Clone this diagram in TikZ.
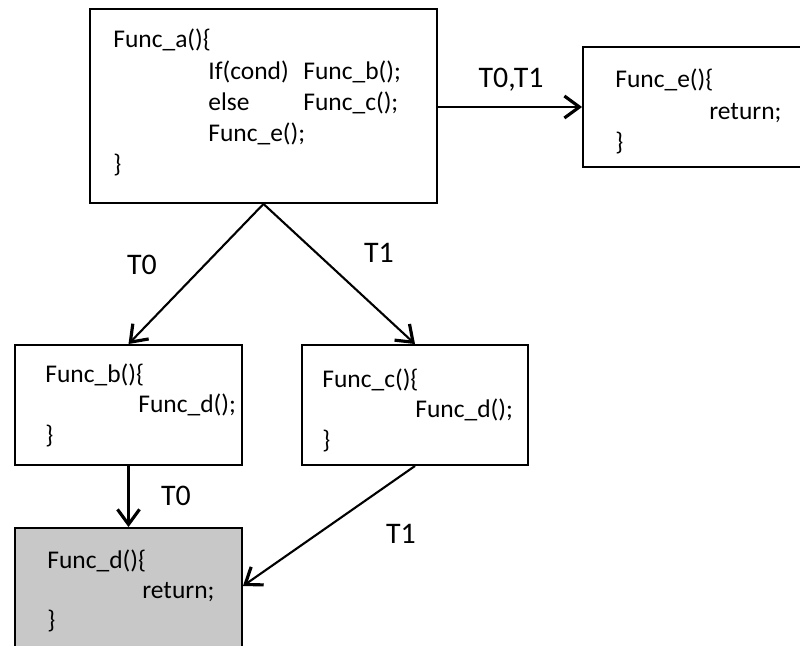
\documentclass[tikz,border=0pt]{standalone}
\usepackage{fontspec}
\setmainfont{Carlito}
\usetikzlibrary{arrows.meta}

\tikzset{
  box/.style={draw, line width=1.1pt, inner sep=0pt},
  code/.style={anchor=base west, inner sep=0pt, font=\fontsize{14.5}{17}\selectfont},
  tlabel/.style={inner sep=0pt, font=\fontsize{17}{20}\selectfont},
  call/.style={line width=1.2pt, -{Straight Barb[length=0.3cm, width=0.44cm, line width=1.8pt]}}
}

\begin{document}
\begin{tikzpicture}[x=0.02cm, y=-0.02cm]
\useasboundingbox (0,0) rectangle (800,645);
\clip (0,0) rectangle (800,645);

% boxes
\node [box, minimum width=6.94cm, minimum height=3.88cm] (a) at (263.5,106) {};
\node [box, minimum width=4.74cm, minimum height=2.4cm] (e) at (701.5,107) {};
\node [box, minimum width=4.54cm, minimum height=2.4cm] (b) at (128.5,405) {};
\node [box, minimum width=4.52cm, minimum height=2.4cm] (c) at (415,405) {};
\node [box, fill={rgb,255:red,200;green,200;blue,200}, minimum width=4.54cm, minimum height=2.64cm] (d) at (128.5,594) {};

% Func_a
\node [code] (a1) at (113,48) {Func\_a()\{};
\node [code] (a2) at (208,80) {If(cond)};
\node [code] (a3) at (303,80) {Func\_b();};
\node [code] (a4) at (208,111) {else};
\node [code] (a5) at (303,111) {Func\_c();};
\node [code] (a6) at (208,142) {Func\_e();};
\node [code] (a7) at (113,173) {\}};

% Func_e
\node [code] (e1) at (615,88) {Func\_e()\{};
\node [code] (e2) at (709,120) {return;};
\node [code] (e3) at (615,151) {\}};

% Func_b
\node [code] (b1) at (45,382) {Func\_b()\{};
\node [code] (b2) at (138,412) {Func\_d();};
\node [code] (b3) at (45,443) {\}};

% Func_c
\node [code] (c1) at (322,387) {Func\_c()\{};
\node [code] (c2) at (415,417) {Func\_d();};
\node [code] (c3) at (322,448) {\}};

% Func_d
\node [code] (d1) at (47,568) {Func\_d()\{};
\node [code] (d2) at (142,598) {return;};
\node [code] (d3) at (47,628) {\}};

% calls
\draw [call] (a.east |- e.west) -- (e.west);
\draw [call] (a.south) -- (b.north);
\draw [call] (a.south) -- (c.north);
\draw [call] (b.south) -- (d.north);
\draw [call] (c.south) -- ([yshift=0.16cm]d.east);

% threads
\node [tlabel] (l1) at (511,80) {T0,T1};
\node [tlabel] (l2) at (142,265) {T0};
\node [tlabel] (l3) at (379,253) {T1};
\node [tlabel] (l4) at (176,496) {T0};
\node [tlabel] (l5) at (401,534) {T1};

\end{tikzpicture}
\end{document}
